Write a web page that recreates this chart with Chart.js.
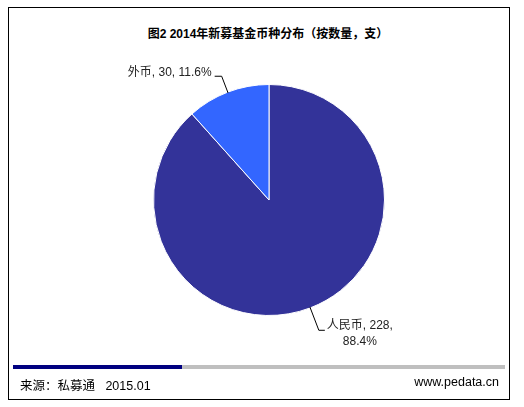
<!DOCTYPE html>
<html lang="zh">
<head>
<meta charset="UTF-8">
<title>图2 2014年新募基金币种分布</title>
<script src="https://cdn.jsdelivr.net/npm/chart.js"></script>
<style>
    html, body {
        margin: 0;
        padding: 0;
        background: #fff;
        width: 524px;
        height: 407px;
        overflow: hidden;
        font-family: Arial, "Liberation Sans", "Noto Sans CJK SC", sans-serif;
    }
    .frame {
        position: absolute;
        left: 8px;
        top: 7px;
        width: 500px;
        height: 391px;
        border: 1px solid #000;
    }
    .title {
        position: absolute;
        left: 0;
        top: 24px;
        width: 536px;
        text-align: center;
        font-size: 12px;
        font-weight: bold;
        color: #000;
    }
    .bar {
        position: absolute;
        top: 365px;
        height: 4px;
    }
    .foot {
        position: absolute;
        top: 375px;
        font-size: 12.5px;
        color: #000;
    }
    canvas {
        position: absolute;
        left: 0;
        top: 0;
    }
</style>
</head>
<body>
<div class="frame"></div>
<div class="title">图2 2014年新募基金币种分布（按数量，支）</div>
<canvas id="pie" width="524" height="407"></canvas>
<div class="bar" style="left:13px;width:169px;background:#000080;"></div>
<div class="bar" style="left:182px;width:323px;background:#bfbfbf;"></div>
<div class="foot" style="left:20px;">来源：私募通&nbsp;&nbsp;&nbsp;2015.01</div>
<div class="foot" style="right:25px;">www.pedata.cn</div>

<script>
    const categories = ['人民币', '外币'];
    const counts = [228, 30];
    const shares = ['88.4%', '11.6%'];
    const sliceColors = ['#333399', '#3366ff'];

    // leader lines + labels next to each slice
    const sliceLabels = {
        id: 'sliceLabels',
        afterDatasetsDraw(chart) {
            const ctx = chart.ctx;
            const arcs = chart.getDatasetMeta(0).data;
            ctx.save();
            ctx.strokeStyle = '#000';
            ctx.lineWidth = 1;
            ctx.fillStyle = '#222';
            ctx.font = '12px Arial, "Liberation Sans", "Noto Sans CJK SC", sans-serif';
            ctx.textBaseline = 'middle';
            arcs.forEach((arc, i) => {
                const mid = (arc.startAngle + arc.endAngle) / 2;
                const r = arc.outerRadius;
                const left = Math.cos(mid) < 0;
                const ext = left ? 17 : 24;
                const sx = arc.x + Math.cos(mid) * (r - 1);
                const sy = arc.y + Math.sin(mid) * (r - 1);
                const ex = arc.x + Math.cos(mid) * (r + ext);
                const ey = arc.y + Math.sin(mid) * (r + ext);
                const hx = ex + (left ? -7 : 6);
                ctx.beginPath();
                ctx.moveTo(sx, sy);
                ctx.lineTo(ex, ey);
                ctx.lineTo(hx, ey);
                ctx.stroke();
                if (left) {
                    ctx.textAlign = 'right';
                    ctx.fillText(categories[i] + ', ' + counts[i] + ', ' + shares[i], hx - 3, ey - 4);
                } else {
                    const line1 = categories[i] + ', ' + counts[i] + ',';
                    const w = ctx.measureText(line1).width;
                    const cx = hx + 2 + w / 2;
                    ctx.textAlign = 'center';
                    ctx.fillText(line1, cx, ey - 5);
                    ctx.fillText(shares[i], cx, ey + 11);
                }
            });
            ctx.restore();
        }
    };

    new Chart(document.getElementById('pie').getContext('2d'), {
        type: 'pie',
        data: {
            labels: categories,
            datasets: [{
                data: counts,
                backgroundColor: sliceColors,
                borderColor: '#ffffff',
                borderWidth: 1
            }]
        },
        options: {
            responsive: false,
            animation: false,
            events: [],
            layout: {
                padding: { left: 153, right: 139, top: 84, bottom: 91 }
            },
            plugins: {
                legend: { display: false },
                tooltip: { enabled: false },
                title: { display: false }
            }
        },
        plugins: [sliceLabels]
    });
</script>
</body>
</html>
